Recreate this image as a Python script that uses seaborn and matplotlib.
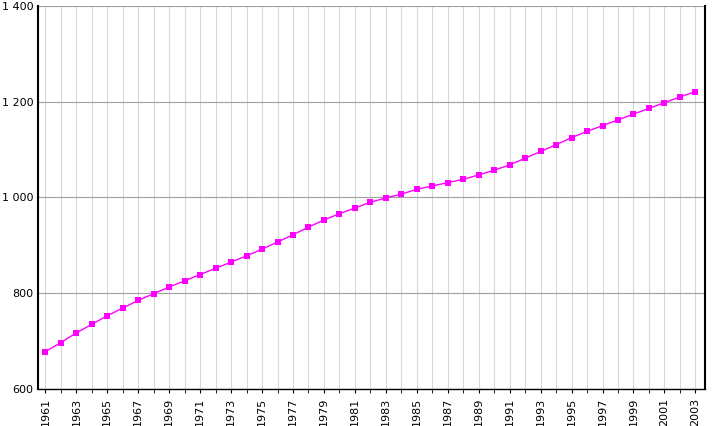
import numpy as np
import pandas as pd
import matplotlib
matplotlib.use("Agg")
import matplotlib.pyplot as plt
import seaborn as sns

years = list(range(1961, 2004))
population = [678, 697, 717, 735, 753, 769, 785, 799, 813, 826,
              839, 852, 865, 878, 892, 907, 922, 938, 953, 966,
              978, 990, 999, 1007, 1017, 1024, 1031, 1038, 1047, 1057,
              1068, 1082, 1096, 1110, 1125, 1138, 1150, 1162, 1174, 1186,
              1198, 1210, 1221]
y_ticks = [600, 800, 1000, 1200, 1400]
y_labels = ["600", "800", "1 000", "1 200", "1 400"]

sns.set_style("white")
plt.rcParams['font.family'] = ['DejaVu Sans']

df = pd.DataFrame({"year": years, "pop": population})

fig = plt.figure(figsize=(7.25, 4.26), dpi=100)
ax = fig.add_axes([0.053, 0.087, 0.92, 0.899])

sns.lineplot(data=df, x="year", y="pop", ax=ax, color="#ff00ff", linewidth=1,
             marker="s", markersize=5, markeredgewidth=0, zorder=3)

ax.set_xlim(1960.55, 2003.65)
ax.set_ylim(600, 1400)
ax.set_xticks(years, minor=True)
ax.set_xticks(years[::2])
ax.set_xticklabels([str(y) for y in years[::2]], rotation=90, fontsize=8, color="black")
ax.set_yticks(y_ticks)
ax.set_yticklabels(y_labels, fontsize=8, color="black")
ax.grid(True, which="minor", axis="x", color="#d8d8d8", linewidth=0.8)
ax.grid(True, which="major", axis="x", color="#d8d8d8", linewidth=0.8)
ax.grid(True, which="major", axis="y", color="#a0a0a0", linewidth=0.8)
ax.tick_params(axis="x", which="both", length=3, direction="out", bottom=True, color="black")
ax.tick_params(axis="y", length=0)
ax.set_xlabel("")
ax.set_ylabel("")
ax.spines["top"].set_visible(False)
ax.spines["left"].set_linewidth(1.5)
ax.spines["right"].set_linewidth(1.5)
ax.spines["bottom"].set_linewidth(1)
for s in ax.spines.values():
    s.set_color("black")

fig.savefig("out.png", dpi=100)
